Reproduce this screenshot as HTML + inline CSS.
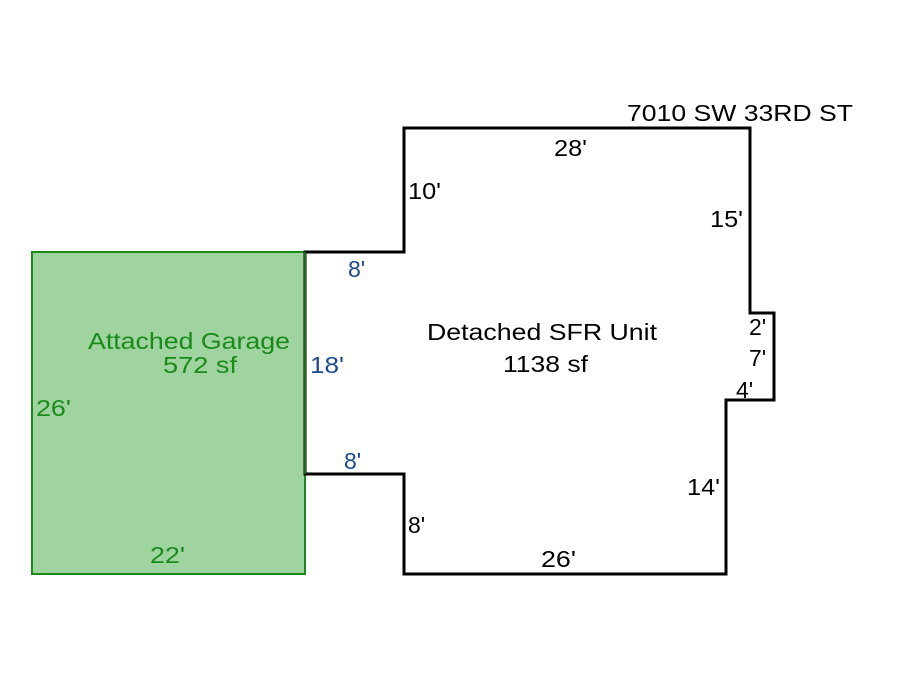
<!DOCTYPE html>
<html><head><meta charset="utf-8"><style>
html,body{margin:0;padding:0;background:#fff;}
svg{display:block;}
text{font-family:"Liberation Sans",Arial,sans-serif;font-size:23px;}
</style></head><body>
<svg width="900" height="675" viewBox="0 0 900 675" xmlns="http://www.w3.org/2000/svg">
<rect x="0" y="0" width="900" height="675" fill="#fff"/>
<rect x="32" y="252" width="273" height="322" fill="#9fd39f" stroke="#1a8a1a" stroke-width="2"/>
<polygon points="404,128 750,128 750,313 774,313 774,400 726,400 726,574 404,574 404,474 305,474 305,252 404,252" fill="none" stroke="#000" stroke-width="3"/>
<line x1="305" y1="252" x2="305" y2="474" stroke="#1a6a1a" stroke-width="2"/>
<g fill="#000">
<text x="627" y="121" textLength="226" lengthAdjust="spacingAndGlyphs">7010 SW 33RD ST</text>
<text x="554" y="156" textLength="33" lengthAdjust="spacingAndGlyphs">28'</text>
<text x="408" y="199" textLength="33" lengthAdjust="spacingAndGlyphs">10'</text>
<text x="710" y="227" textLength="33" lengthAdjust="spacingAndGlyphs">15'</text>
<text x="427" y="340" textLength="230" lengthAdjust="spacingAndGlyphs">Detached SFR Unit</text>
<text x="503" y="372" textLength="85" lengthAdjust="spacingAndGlyphs">1138 sf</text>
<text x="749" y="335">2'</text>
<text x="749" y="366">7'</text>
<text x="736" y="398">4'</text>
<text x="687" y="495" textLength="33" lengthAdjust="spacingAndGlyphs">14'</text>
<text x="408" y="533">8'</text>
<text x="541" y="567" textLength="35" lengthAdjust="spacingAndGlyphs">26'</text>
</g>
<g fill="#1a4a8a">
<text x="348" y="277">8'</text>
<text x="310" y="373" textLength="34" lengthAdjust="spacingAndGlyphs">18'</text>
<text x="344" y="469">8'</text>
</g>
<g fill="#1a8a1a">
<text x="88" y="349" textLength="202" lengthAdjust="spacingAndGlyphs">Attached Garage</text>
<text x="163" y="373" textLength="74" lengthAdjust="spacingAndGlyphs">572 sf</text>
<text x="36" y="416" textLength="35" lengthAdjust="spacingAndGlyphs">26'</text>
<text x="150" y="563" textLength="35" lengthAdjust="spacingAndGlyphs">22'</text>
</g>
</svg>
</body></html>
